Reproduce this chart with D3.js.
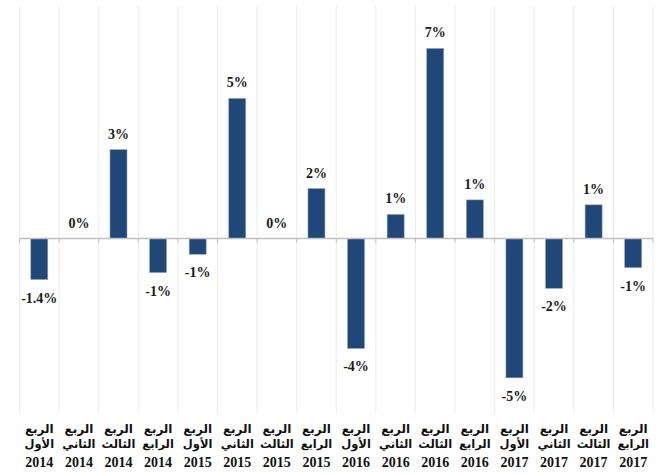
<!DOCTYPE html>
<html><head><meta charset="utf-8">
<script src="https://cdn.jsdelivr.net/npm/d3@7"></script>
<style>body{margin:0;background:#fff}</style>
</head><body><svg id="c" width="663" height="474"></svg>
<script>
const quarters = ["الربع الأول","الربع الثاني","الربع الثالث","الربع الرابع","الربع الأول","الربع الثاني","الربع الثالث","الربع الرابع","الربع الأول","الربع الثاني","الربع الثالث","الربع الرابع","الربع الأول","الربع الثاني","الربع الثالث","الربع الرابع"];
const years = ["2014","2014","2014","2014","2015","2015","2015","2015","2016","2016","2016","2016","2017","2017","2017","2017"];
const values = [-1.41, 0, 3.06, -1.17, -0.54, 4.82, 0, 1.72, -3.78, 0.83, 6.54, 1.33, -4.79, -1.71, 1.16, -1.0];
const labels = ["-1.4%","0%","3%","-1%","-1%","5%","0%","2%","-4%","1%","7%","1%","-5%","-2%","1%","-1%"];
const yDomain = [-6, 8];

(function(){
const svg = d3.select("#c");
const pL = 19.5, pR = 653, pT = 6, pB = 413;
const ids = d3.range(values.length);
const x = d3.scaleBand().domain(ids).range([pL, pR]).paddingInner(0).paddingOuter(0);
const y = d3.scaleLinear().domain(yDomain).range([pB, pT]);
const bw = 17;

const bounds = ids.map(i => x(i)).concat([pR]);
svg.append("g").selectAll("line").data(bounds).join("line")
  .attr("x1", d => d).attr("x2", d => d).attr("y1", pT).attr("y2", pB)
  .attr("stroke", "#ececec").attr("stroke-width", 1);

svg.append("g").selectAll("rect").data(ids).join("rect")
  .attr("x", i => x(i) + x.bandwidth()/2 - bw/2)
  .attr("width", bw)
  .attr("y", i => y(Math.max(0, values[i])))
  .attr("height", i => Math.abs(y(values[i]) - y(0)))
  .attr("fill", "#1f4778")
  .attr("stroke", "#8fa6c4").attr("stroke-width", 0.6);

const axis = d3.axisBottom(x).tickSize(0).tickFormat("");
const ag = svg.append("g").attr("transform", `translate(0,${y(0)})`).call(axis);
ag.select(".domain").attr("stroke", "#bfbfbf").attr("stroke-width", 1.5).attr("d", `M${pL},0H${pR}`);
ag.append("g").selectAll("line").data(bounds).join("line")
  .attr("x1", d => d).attr("x2", d => d).attr("y1", 0).attr("y2", 4)
  .attr("stroke", "#bfbfbf").attr("stroke-width", 1);

svg.append("g").selectAll("text").data(ids).join("text")
  .attr("x", i => x(i) + x.bandwidth()/2)
  .attr("y", i => values[i] >= 0 ? y(values[i]) - 11 : y(values[i]) + 23)
  .attr("text-anchor", "middle")
  .attr("font-family", "'Liberation Serif','Times New Roman',serif")
  .attr("font-weight", "bold").attr("font-size", 14).attr("fill", "#1a1a1a")
  .text(i => labels[i]);

const cg = svg.append("g").selectAll("g").data(ids).join("g")
  .attr("transform", i => `translate(${x(i) + x.bandwidth()/2},0)`);
cg.each(function(i){
  const g = d3.select(this);
  const parts = quarters[i].split(" ");
  const fam = "'Liberation Serif','Times New Roman','DejaVu Sans',serif";
  g.append("text").attr("y", 433).attr("text-anchor","middle").attr("direction","rtl")
    .attr("font-family", fam).attr("font-weight","bold").attr("font-size", 12).attr("fill","#111")
    .text(parts[0]);
  g.append("text").attr("y", 448).attr("text-anchor","middle").attr("direction","rtl")
    .attr("font-family", fam).attr("font-weight","bold").attr("font-size", 11.5).attr("fill","#111")
    .text(parts[1]);
  g.append("text").attr("y", 467).attr("text-anchor","middle")
    .attr("font-family", "'Liberation Serif','Times New Roman',serif").attr("font-weight","bold").attr("font-size", 14).attr("fill","#111")
    .text(years[i]);
});
})();
</script></body></html>
